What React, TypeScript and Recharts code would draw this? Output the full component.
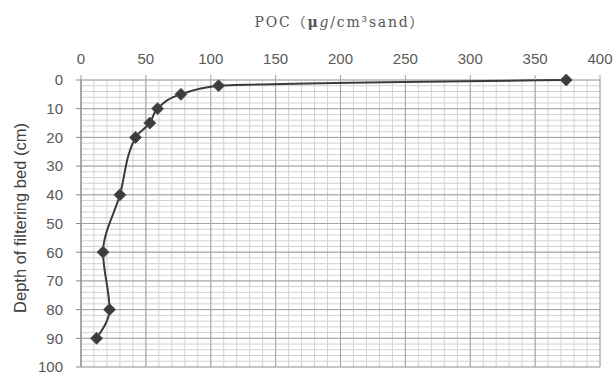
import { LineChart, Line, XAxis, YAxis, CartesianGrid } from "recharts";

// Depth profile of POC in the filter bed.
const depths = [0, 2, 5, 10, 15, 20, 40, 60, 80, 90];
const poc = [374, 106, 77, 59, 53, 42, 30, 17, 22, 12];

const pocTicks = [0, 50, 100, 150, 200, 250, 300, 350, 400];
const depthTicks = [0, 10, 20, 30, 40, 50, 60, 70, 80, 90, 100];
const pocMinor = [0, 10, 20, 30, 40, 50, 60, 70, 80, 90, 100, 110, 120, 130, 140, 150, 160, 170, 180, 190, 200, 210, 220, 230, 240, 250, 260, 270, 280, 290, 300, 310, 320, 330, 340, 350, 360, 370, 380, 390, 400];
const depthMinor = [0, 2, 4, 6, 8, 10, 12, 14, 16, 18, 20, 22, 24, 26, 28, 30, 32, 34, 36, 38, 40, 42, 44, 46, 48, 50, 52, 54, 56, 58, 60, 62, 64, 66, 68, 70, 72, 74, 76, 78, 80, 82, 84, 86, 88, 90, 92, 94, 96, 98, 100];

const data = depths.map((d, i) => ({ depth: d, poc: poc[i] }));

const tickFont = { fontFamily: "'Liberation Sans', Arial, sans-serif", fontSize: 15, fill: "#595959" };

// minor grid: use the axis scale if the generator gets one, else map linearly over the plot box
function mapX(axis: any, offset: any, v: number) {
  if (axis && typeof axis.scale === "function") return axis.scale(v);
  return offset.left + (v / 400) * offset.width;
}
function mapY(axis: any, offset: any, v: number) {
  if (axis && typeof axis.scale === "function") return axis.scale(v);
  return offset.top + (v / 100) * offset.height;
}

function Diamond(props: any) {
  const { cx, cy } = props;
  if (cx == null || cy == null) return null;
  const r = 6;
  return (
    <polygon
      points={`${cx},${cy - r} ${cx + r},${cy} ${cx},${cy + r} ${cx - r},${cy}`}
      fill="#3c3c3c"
      stroke="#555"
      strokeWidth={1}
    />
  );
}

export default function App() {
  return (
    <div style={{ position: "fixed", left: 0, top: 0, width: 615, height: 374, background: "#fff", overflow: "hidden" }}>
      <LineChart
        width={615}
        height={374}
        data={data}
        layout="vertical"
        margin={{ top: 38, right: 15, bottom: 7, left: 0 }}
        style={{ overflow: "visible" }}
      >
        <CartesianGrid
          stroke="#d2d2d2"
          strokeWidth={1}
          verticalCoordinatesGenerator={({ xAxis, offset }: any) => pocMinor.map((v) => mapX(xAxis, offset, v))}
          horizontalCoordinatesGenerator={({ yAxis, offset }: any) => depthMinor.map((v) => mapY(yAxis, offset, v))}
        />
        <CartesianGrid stroke="#a3a3a3" strokeWidth={1} />
        <XAxis
          type="number"
          dataKey="poc"
          orientation="top"
          domain={[0, 400]}
          ticks={pocTicks}
          height={42}
          tickSize={5}
          tickMargin={11}
          axisLine={false}
          tickLine={{ stroke: "#a3a3a3" }}
          tick={tickFont}
          interval={0}
        />
        <YAxis
          type="number"
          dataKey="depth"
          domain={[0, 100]}
          ticks={depthTicks}
          width={81}
          tickSize={5}
          tickMargin={13}
          axisLine={{ stroke: "#8a8a8a" }}
          tickLine={{ stroke: "#8a8a8a" }}
          tick={tickFont}
          interval={0}
        />
        <Line
          dataKey="poc"
          type="monotone"
          stroke="#3a3a3a"
          strokeWidth={2}
          dot={<Diamond />}
          activeDot={false}
          isAnimationActive={false}
        />
      </LineChart>
      <div
        style={{
          position: "absolute",
          left: 0,
          width: 615,
          top: 11,
          textAlign: "center",
          paddingLeft: 65,
          boxSizing: "border-box",
          fontFamily: "'DejaVu Serif', 'Liberation Serif', serif",
          fontSize: 14,
          letterSpacing: 1.8,
          color: "#555",
        }}
      >
        POC<span style={{ fontFamily: "'Noto Sans CJK SC'" }}>（</span>
        <b>μ</b>
        <i>g</i>/cm³sand
        <span style={{ fontFamily: "'Noto Sans CJK SC'" }}>）</span>
      </div>
      <div
        style={{
          position: "absolute",
          left: 20,
          top: 218,
          transform: "translate(-50%, -50%) rotate(-90deg)",
          whiteSpace: "nowrap",
          fontFamily: "'Liberation Sans', Arial, sans-serif",
          fontSize: 16.5,
          color: "#404040",
        }}
      >
        Depth of filtering bed (cm)
      </div>
    </div>
  );
}
